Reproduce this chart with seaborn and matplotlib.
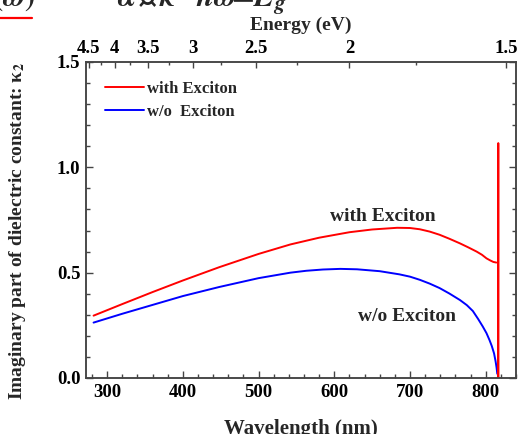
import numpy as np
import pandas as pd
import matplotlib.pyplot as plt
import matplotlib.ticker as mticker
from matplotlib.lines import Line2D
import seaborn as sns

# values
wl_exc = [282, 320, 360, 400, 448, 500, 542, 580, 620, 650, 683, 700, 713, 726, 739, 752,
          766, 777, 788, 795, 801, 806, 810, 814]
k2_exc = [0.296, 0.351, 0.408, 0.463, 0.526, 0.589, 0.634, 0.666, 0.692, 0.705, 0.713, 0.712,
          0.706, 0.695, 0.680, 0.661, 0.639, 0.620, 0.600, 0.585, 0.568, 0.558, 0.551, 0.548]
wl_noexc = [282, 320, 360, 400, 448, 500, 542, 563, 585, 608, 630, 660, 686, 700, 713, 726,
            739, 752, 766, 775, 783, 790, 796, 801, 805, 808, 811, 813, 814.3, 815.3]
k2_noexc = [0.263, 0.305, 0.347, 0.389, 0.432, 0.474, 0.500, 0.509, 0.515, 0.518, 0.516,
            0.507, 0.492, 0.481, 0.466, 0.448, 0.427, 0.401, 0.370, 0.346, 0.318, 0.280,
            0.245, 0.213, 0.180, 0.152, 0.117, 0.080, 0.050, 0.020]
# sharp exciton peak at the band edge
wl_peak = [816.3, 816.3, 816.6, 816.8]
k2_peak = [0.0, 0.12, 1.115, 0.0]

energy_ticks = [4.5, 4, 3.5, 3, 2.5, 2, 1.5]
energy_minor = [4.25, 3.75, 3.25, 2.75, 2.25, 1.75]
HC = 1239.84  # eV*nm

sns.set_theme(style="ticks")
plt.rcParams['font.family'] = ['Liberation Serif', 'DejaVu Serif']
plt.rcParams['font.weight'] = 'bold'
plt.rcParams['axes.labelweight'] = 'bold'
plt.rcParams['mathtext.fontset'] = 'stix'
plt.rcParams['axes.edgecolor'] = '#444444'
plt.rcParams['xtick.color'] = '#444444'
plt.rcParams['ytick.color'] = '#444444'
plt.rcParams['xtick.labelcolor'] = 'black'
plt.rcParams['ytick.labelcolor'] = 'black'

fig = plt.figure(figsize=(5.2, 4.34), dpi=100)
ax = fig.add_axes([86 / 520, 1 - 378 / 434, 430 / 520, 316 / 434])

sns.lineplot(x=wl_exc, y=k2_exc, color='red', lw=1.4, ax=ax, label='with Exciton')
sns.lineplot(x=wl_noexc, y=k2_noexc, color='blue', lw=1.4, ax=ax, label='w/o  Exciton')
sns.lineplot(x=wl_peak, y=k2_peak, color='red', lw=1.4, ax=ax, sort=False,
             estimator=None, legend=False)

ax.set_xlim(272, 840)
ax.set_ylim(0, 1.5)
ax.xaxis.set_major_locator(mticker.MultipleLocator(100))
ax.xaxis.set_minor_locator(mticker.MultipleLocator(20))
ax.yaxis.set_major_locator(mticker.MultipleLocator(0.5))
ax.yaxis.set_minor_locator(mticker.MultipleLocator(0.1))
ax.yaxis.set_major_formatter(mticker.FormatStrFormatter('%.1f'))
ax.tick_params(which='both', direction='in', top=False, right=True, width=1, labelsize=13.5)
ax.tick_params(which='major', length=5, pad=4)
ax.tick_params(which='minor', length=3)
for s in ax.spines.values():
    s.set_linewidth(1.1)

ax.set_xlabel('Wavelength (nm)', fontsize=15, labelpad=13)
ax.set_ylabel('Imaginary part of dielectric constant: κ$_\\mathbf{2}$', fontsize=14)
ax.yaxis.set_label_coords(-0.135, 0.465)

ax.text(664.4, 0.747, 'with Exciton', ha='center', va='baseline', fontsize=14, weight='bold')
ax.text(695.8, 0.2706, 'w/o Exciton', ha='center', va='baseline', fontsize=14, weight='bold')

ax.legend(loc='upper left', frameon=False, fontsize=12, handlelength=2.3,
          handletextpad=0.2, labelspacing=0.42, borderaxespad=0.75)

# energy scale on top
ax2 = ax.twiny()
ax2.set_xlim(ax.get_xlim())
ax2.set_xticks([HC / e for e in energy_ticks])
ax2.set_xticklabels([f'{e:g}' for e in energy_ticks])
ax2.set_xticks([HC / e for e in energy_minor], minor=True)
ax2.tick_params(which='both', direction='in', width=1, labelsize=13.5, pad=3.5)
ax2.tick_params(which='major', length=4)
ax2.tick_params(which='minor', length=2.5)
ax2.set_xlabel('Energy (eV)', fontsize=14, labelpad=7.5)
for s in ax2.spines.values():
    s.set_linewidth(1.1)

# cropped formula from the original figure, mostly outside the frame
base = 1 - 6 / 434
fml = dict(fontsize=22, va='baseline', style='italic', weight='normal')
fig.text(35 / 520, base, r'$(\omega)$', ha='right', **fml)
fig.text(117 / 520, base, r'$\alpha\cdot\kappa$', ha='left', **fml)
fig.text(196 / 520, base, r'$\hbar\omega$', ha='left', **fml)
fig.text(231 / 520, base, r'$-$', ha='left', **fml)
fig.text(253 / 520, base, r'$E_g$', ha='left', **fml)
fig.add_artist(Line2D([0, 32 / 520], [1 - 18 / 434, 1 - 18 / 434], color='red', lw=1.6))

fig.savefig('out.png', dpi=100)
